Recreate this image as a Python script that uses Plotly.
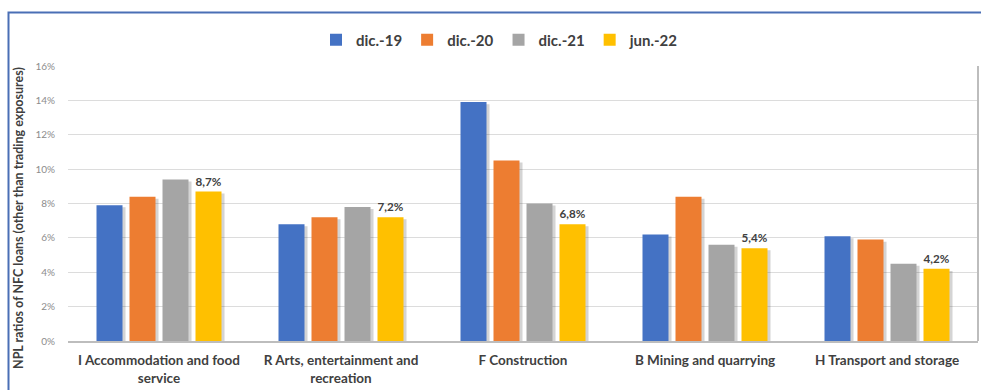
import plotly.graph_objects as go

categories = [
    "I Accommodation and food<br>service",
    "R Arts, entertainment and<br>recreation",
    "F Construction",
    "B Mining and quarrying",
    "H Transport and storage",
]
series_names = ["dic.-19", "dic.-20", "dic.-21", "jun.-22"]
dic19 = [7.9, 6.8, 13.9, 6.2, 6.1]
dic20 = [8.4, 7.2, 10.5, 8.4, 5.9]
dic21 = [9.4, 7.8, 8.0, 5.6, 4.5]
jun22 = [8.7, 7.2, 6.8, 5.4, 4.2]
colors = ["#4472C4", "#ED7D31", "#A5A5A5", "#FFC000"]

y_ticks = [0, 2, 4, 6, 8, 10, 12, 14, 16]
y_tick_text = [f"{v}%" for v in y_ticks]

FONT = "Lato, 'Noto Sans', sans-serif"
TEXT = "#404040"

# geometry of the grouped bars, in category units (one category = 1.0)
PLOT_W = 910
N_CAT = len(categories)
px = N_CAT / PLOT_W          # one pixel in category units
BAR_W = 26 * px
STEP = 33 * px
START = -(3 * STEP + BAR_W) / 2

fig = go.Figure()

# soft drop shadows behind each bar
for i, vals in enumerate([dic19, dic20, dic21, jun22]):
    fig.add_trace(go.Bar(
        x=categories,
        y=[v - 0.12 for v in vals],
        width=BAR_W,
        offset=START + i * STEP + 3 * px,
        marker=dict(color="rgba(60,60,60,0.22)", line=dict(width=0)),
        showlegend=False,
        hoverinfo="skip",
    ))

for i, (name, vals, col) in enumerate(zip(series_names, [dic19, dic20, dic21, jun22], colors)):
    is_last = name == "jun.-22"
    fig.add_trace(go.Bar(
        name=name,
        x=categories,
        y=vals,
        width=BAR_W,
        offset=START + i * STEP,
        marker=dict(color=col, line=dict(width=0)),
        text=[f"{v:.1f}%".replace(".", ",") for v in vals] if is_last else None,
        textposition="outside" if is_last else "none",
        textfont=dict(family=FONT, size=12, color=TEXT, weight="bold"),
        cliponaxis=False,
    ))

fig.update_layout(
    width=981,
    height=390,
    barmode="overlay",
    plot_bgcolor="white",
    paper_bgcolor="white",
    margin=dict(l=68, r=3, t=66, b=49),
    font=dict(family=FONT, color=TEXT),
    showlegend=True,
    legend=dict(
        orientation="h",
        xref="container",
        x=500 / 981,
        xanchor="center",
        yref="container",
        y=1 - 40 / 390,
        yanchor="middle",
        font=dict(family=FONT, size=15, color=TEXT, weight="bold"),
        itemwidth=30,
        traceorder="normal",
    ),
    yaxis=dict(
        range=[0, 16],
        tickvals=y_ticks,
        ticktext=y_tick_text,
        tickfont=dict(family=FONT, size=10, color="#8C8C8C"),
        showgrid=True,
        gridcolor="#DCDCDC",
        gridwidth=1,
        zeroline=False,
        showline=False,
        ticks="",
        ticklabelstandoff=12,
    ),
    xaxis=dict(
        tickfont=dict(family=FONT, size=13.5, color=TEXT, weight="bold"),
        showline=True,
        linecolor="#BDBDBD",
        linewidth=2,
        ticks="",
        ticklabelstandoff=6,
        mirror=False,
    ),
    annotations=[
        dict(
            text="NPL ratios of NFC loans (other than trading exposures)",
            xref="paper", yref="paper",
            x=(18 - 68) / 910, y=(341 - 218) / 275,
            xanchor="center", yanchor="middle",
            textangle=-90,
            showarrow=False,
            font=dict(family=FONT, size=12.5, color=TEXT, weight="bold"),
        )
    ],
    shapes=[
        # outer frame of the chart card
        dict(type="rect", xref="paper", yref="paper",
             x0=(8.5 - 68) / 910, x1=1.2, y0=-0.5, y1=(341 - 12.5) / 275,
             line=dict(color="#4A6FB5", width=2), fillcolor="rgba(0,0,0,0)", layer="below"),
        # right edge of the plot area
        dict(type="line", xref="paper", yref="paper",
             x0=(978 - 68) / 910, x1=(978 - 68) / 910, y0=0, y1=1,
             line=dict(color="#BDBDBD", width=2)),
    ],
)

fig.write_html("out.html")
